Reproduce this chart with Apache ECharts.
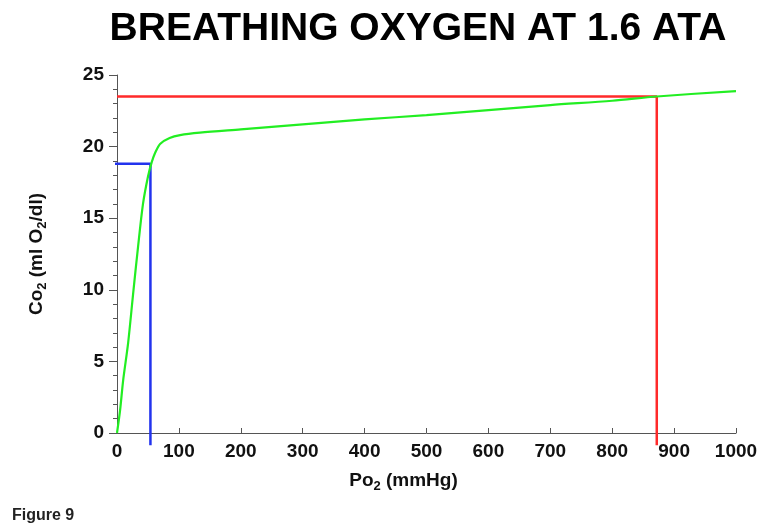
<!DOCTYPE html>
<html>
<head>
<meta charset="utf-8">
<script src="https://cdn.jsdelivr.net/npm/echarts@6/dist/echarts.min.js"></script>
<style>
  html, body { margin: 0; padding: 0; background: #fff; }
  #chart { width: 762px; height: 529px; }
</style>
</head>
<body>
<div id="chart"></div>
<script>
// O2 content curve: [Po2 mmHg, Co2 ml/dl]
var curvePo2 = [0, 5, 10, 18, 26, 34, 42, 50, 56, 62, 70, 85, 102, 134, 200, 300, 400, 500, 600, 700, 800, 872, 1000];
var curveCo2 = [0, 1.6, 3.7, 6.3, 9.7, 13, 16, 17.9, 18.9, 19.6, 20.2, 20.6, 20.8, 20.97, 21.2, 21.55, 21.9, 22.2, 22.55, 22.9, 23.2, 23.5, 23.88];

// marker lines: arterial (red) and venous (blue)
var redPo2 = [0, 872, 872];
var redCo2 = [23.5, 23.5, -0.85];
var bluePo2 = [-6, 54, 54];
var blueCo2 = [18.8, 18.8, -0.85];

function pairs(xs, ys) {
  return xs.map(function (x, i) { return [x, ys[i]]; });
}

var FONT = 'Liberation Sans, Arial, sans-serif';
var chart = echarts.init(document.getElementById('chart'));
var labelFont = { color: '#111', fontWeight: 'bold', fontSize: 19, fontFamily: FONT };
var nameRich = {
  b: { fontSize: 19, fontWeight: 'bold', color: '#111', fontFamily: FONT },
  s: { fontSize: 13, fontWeight: 'bold', color: '#111', fontFamily: FONT, padding: [11, 0, 0, 0] }
};

chart.setOption({
  animation: false,
  title: [{
    text: 'BREATHING OXYGEN AT 1.6 ATA',
    left: 413, top: 5, textAlign: 'center',
    textStyle: { fontSize: 39, fontWeight: 'bold', color: '#000', fontFamily: FONT }
  }, {
    text: 'Figure 9',
    left: 7, top: 503,
    textStyle: { fontSize: 16, fontWeight: 'bold', color: '#222', fontFamily: FONT }
  }],
  grid: { left: 117, right: 26, top: 75, bottom: 96 },
  xAxis: {
    type: 'value', min: 0, max: 1000, interval: 100,
    axisLine: { lineStyle: { color: '#555', width: 1 } },
    axisTick: { inside: true, length: 5, lineStyle: { color: '#555' } },
    splitLine: { show: false },
    axisLabel: Object.assign({ margin: 9, formatter: function (v) { return String(v); } }, labelFont),
    name: '{b|Po}{s|2}{b| (mmHg)}',
    nameLocation: 'middle', nameGap: 36,
    nameTextStyle: { padding: [0, 46, 0, 0], rich: nameRich }
  },
  yAxis: {
    type: 'value', min: 0, max: 25, interval: 5,
    axisLine: { show: true, lineStyle: { color: '#555', width: 1 } },
    axisTick: { show: true, length: 8, lineStyle: { color: '#555' } },
    minorTick: { show: true, splitNumber: 5, length: 4, lineStyle: { color: '#555' } },
    splitLine: { show: false },
    axisLabel: Object.assign({ margin: 13 }, labelFont),
    name: '{b|Co}{s|2}{b| (ml O}{s|2}{b|/dl)}',
    nameLocation: 'middle', nameGap: 68, nameRotate: 90,
    nameTextStyle: { rich: nameRich }
  },
  series: [{
    type: 'line', data: pairs(redPo2, redCo2), clip: false, symbol: 'none', z: 2,
    lineStyle: { color: '#ff2a2a', width: 2.5 }
  }, {
    type: 'line', data: pairs(bluePo2, blueCo2), clip: false, symbol: 'none', z: 2,
    lineStyle: { color: '#2233ee', width: 2.5 }
  }, {
    type: 'line', data: pairs(curvePo2, curveCo2), smooth: 0.3, symbol: 'none', z: 3,
    lineStyle: { color: '#22ee22', width: 2.2 }
  }]
});
</script>
</body>
</html>
